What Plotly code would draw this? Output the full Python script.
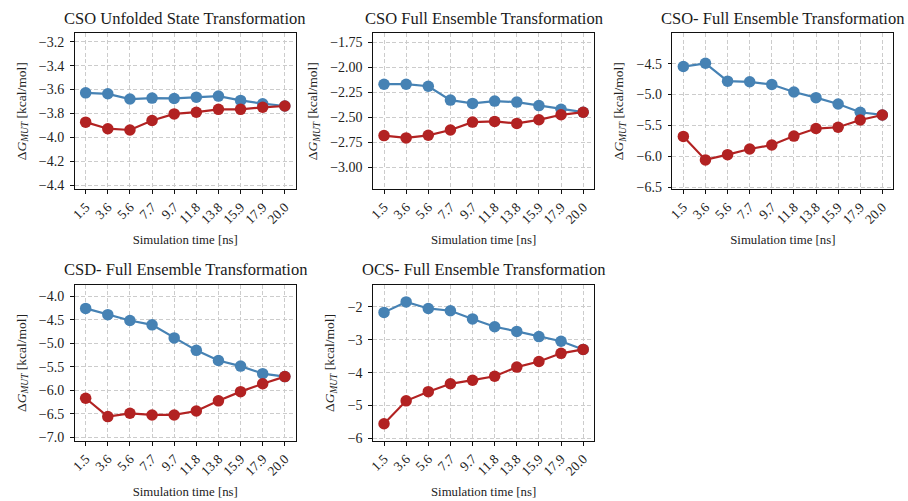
import plotly.graph_objects as go

times = ["1.5", "3.6", "5.6", "7.7", "9.7", "11.8", "13.8", "15.9", "17.9", "20.0"]

titles = [
    "CSO Unfolded State Transformation",
    "CSO Full Ensemble Transformation",
    "CSO- Full Ensemble Transformation",
    "CSD- Full Ensemble Transformation",
    "OCS- Full Ensemble Transformation",
]

blue_1 = [-3.628, -3.636, -3.680, -3.672, -3.675, -3.664, -3.655, -3.691, -3.719, -3.738]
red_1 = [-3.873, -3.928, -3.939, -3.859, -3.804, -3.790, -3.766, -3.766, -3.749, -3.738]

blue_2 = [-2.169, -2.169, -2.189, -2.328, -2.361, -2.338, -2.348, -2.383, -2.420, -2.449]
red_2 = [-2.683, -2.706, -2.680, -2.627, -2.548, -2.541, -2.561, -2.525, -2.475, -2.449]

blue_3 = [-4.548, -4.495, -4.784, -4.795, -4.838, -4.961, -5.052, -5.154, -5.288, -5.332]
red_3 = [-5.680, -6.060, -5.975, -5.883, -5.819, -5.674, -5.552, -5.531, -5.413, -5.332]

blue_4 = [-4.258, -4.391, -4.516, -4.607, -4.886, -5.151, -5.368, -5.486, -5.647, -5.710]
red_4 = [-6.170, -6.561, -6.491, -6.526, -6.526, -6.442, -6.226, -6.030, -5.863, -5.710]

blue_5 = [-2.169, -1.851, -2.050, -2.119, -2.368, -2.607, -2.746, -2.905, -3.045, -3.294]
red_5 = [-5.552, -4.856, -4.577, -4.338, -4.229, -4.109, -3.831, -3.662, -3.413, -3.294]

blues = [blue_1, blue_2, blue_3, blue_4, blue_5]
reds = [red_1, red_2, red_3, red_4, red_5]

y_ranges = [[-4.436, -3.128], [-3.221, -1.658], [-6.538, -4.006], [-7.084, -3.756], [-6.08, -1.333]]
y_dticks = [0.2, 0.25, 0.5, 0.5, 1]
y_formats = [".1f", ".2f", ".1f", ".1f", "d"]

W, H = 908, 501
# pixel boxes: left, right, top, bottom
boxes = [
    (70, 292.5, 33.5, 191.7),
    (370, 592.5, 33.5, 191.7),
    (671, 893.3, 33.5, 191.7),
    (70, 292.5, 288.3, 446.5),
    (370, 592.5, 288.3, 446.5),
]

BLUE = "#4682B4"
RED = "#B22222"
FONT = "Liberation Serif"

fig = go.Figure()
layout = dict(
    width=W, height=H,
    margin=dict(l=0, r=0, t=0, b=0),
    paper_bgcolor="white", plot_bgcolor="white",
    showlegend=False,
    font=dict(family=FONT, color="#222", size=13),
)
annotations = []

for i in range(5):
    ax = "" if i == 0 else str(i + 1)
    l, r, t, b = boxes[i]
    xdom = [l / W, r / W]
    ydom = [1 - b / H, 1 - t / H]
    for vals, col in ((blues[i], BLUE), (reds[i], RED)):
        fig.add_trace(go.Scatter(
            x=list(range(len(times))), y=vals, mode="lines+markers",
            line=dict(color=col, width=2.2),
            marker=dict(color=col, size=11.5),
            xaxis="x" + ax, yaxis="y" + ax, cliponaxis=False,
        ))
    grid = dict(showgrid=True, gridcolor="#cccccc", griddash="4px,2.5px", gridwidth=1,
                showline=True, linecolor="#111", linewidth=1.1, mirror=True,
                ticks="outside", ticklen=3.5, tickwidth=0.9, tickcolor="#111",
                zeroline=False)
    layout["xaxis" + ax] = dict(
        domain=xdom, anchor="y" + ax, range=[-0.5, 9.5],
        tickmode="array", tickvals=list(range(len(times))), ticktext=times,
        tickangle=-45, tickfont=dict(family=FONT, size=13.5, color="#222"),
        title=dict(text="Simulation time [ns]", font=dict(family=FONT, size=12.8), standoff=9),
        **grid)
    layout["yaxis" + ax] = dict(
        domain=ydom, anchor="x" + ax, range=y_ranges[i],
        tick0=0, dtick=y_dticks[i], tickformat=y_formats[i],
        tickfont=dict(family=FONT, size=14, color="#222"), ticklabelstandoff=3,
        title=dict(text="Δ<i>G</i><sub><i>MUT</i></sub> [kcal/mol]", font=dict(family=FONT, size=13.5), standoff=9),
        **grid)
    annotations.append(dict(
        text=titles[i], x=(xdom[0] + xdom[1]) / 2, y=1 - (t - 3.5) / H,
        xref="paper", yref="paper", xanchor="center", yanchor="bottom",
        showarrow=False, font=dict(family=FONT, size=16.5, color="#1a1a1a"),
    ))

layout["annotations"] = annotations
fig.update_layout(**layout)
fig.write_html("out.html")
